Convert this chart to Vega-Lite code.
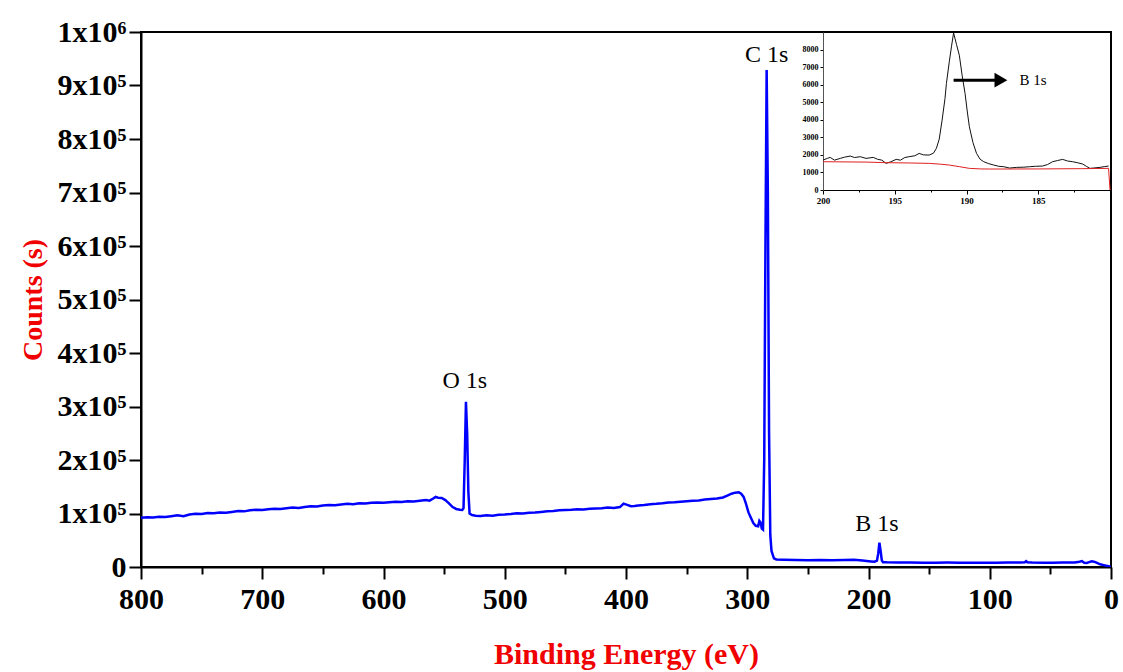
{
  "$schema": "https://vega.github.io/schema/vega-lite/v6.json",
  "width": 970,
  "height": 535,
  "autosize": "none",
  "padding": {"left": 141, "top": 32, "right": 12, "bottom": 105},
  "background": "white",
  "config": {
    "view": {"stroke": "black", "strokeWidth": 2},
    "axis": {"grid": false, "domainColor": "black", "tickColor": "black", "labelColor": "black", "labelFont": "Liberation Serif", "titleFont": "Liberation Serif"}
  },
  "datasets": {
    "survey": [
      {"E":800,"C":92000},{"E":795,"C":93000},{"E":790,"C":92500},{"E":785,"C":94000},{"E":780,"C":93500},{"E":775,"C":95000},{"E":770,"C":96500},{"E":765,"C":95000},{"E":760,"C":98000},{"E":755,"C":99500},{"E":750,"C":99000},{"E":745,"C":101000},{"E":740,"C":100500},{"E":735,"C":102000},{"E":730,"C":101500},{"E":725,"C":103000},{"E":720,"C":104500},{"E":715,"C":104000},{"E":710,"C":106000},{"E":705,"C":107000},{"E":700,"C":106500},{"E":695,"C":108000},{"E":690,"C":109000},{"E":685,"C":108500},{"E":680,"C":110000},{"E":675,"C":111000},{"E":670,"C":110500},{"E":665,"C":112000},{"E":660,"C":113500},{"E":655,"C":113000},{"E":650,"C":115000},{"E":645,"C":116000},{"E":640,"C":115500},{"E":635,"C":117000},{"E":630,"C":118000},{"E":625,"C":117500},{"E":620,"C":119000},{"E":615,"C":118500},{"E":610,"C":120000},{"E":605,"C":120500},{"E":600,"C":120000},{"E":595,"C":121000},{"E":590,"C":122000},{"E":585,"C":121500},{"E":580,"C":123000},{"E":575,"C":122500},{"E":570,"C":124000},{"E":565,"C":125000},{"E":562,"C":124000},{"E":559,"C":128000},{"E":557,"C":131000},{"E":555,"C":129500},{"E":552,"C":129000},{"E":549,"C":125000},{"E":546,"C":119000},{"E":543,"C":112000},{"E":540,"C":108500},{"E":537,"C":107000},{"E":535,"C":106500},{"E":534,"C":110000},{"E":533,"C":200000},{"E":532,"C":309000},{"E":531,"C":250000},{"E":530,"C":140000},{"E":529,"C":100000},{"E":527,"C":97000},{"E":524,"C":96000},{"E":520,"C":95500},{"E":515,"C":96500},{"E":510,"C":96000},{"E":505,"C":97500},{"E":500,"C":98000},{"E":495,"C":99000},{"E":490,"C":100500},{"E":485,"C":100000},{"E":480,"C":101500},{"E":475,"C":102000},{"E":470,"C":103000},{"E":465,"C":104000},{"E":460,"C":104500},{"E":455,"C":106000},{"E":450,"C":106500},{"E":445,"C":107000},{"E":440,"C":108000},{"E":435,"C":107500},{"E":430,"C":109000},{"E":425,"C":109500},{"E":420,"C":110000},{"E":415,"C":111000},{"E":410,"C":110500},{"E":405,"C":112000},{"E":402,"C":118500},{"E":399,"C":116000},{"E":396,"C":113500},{"E":393,"C":114000},{"E":390,"C":115000},{"E":385,"C":116000},{"E":380,"C":117500},{"E":375,"C":118000},{"E":370,"C":119000},{"E":365,"C":120500},{"E":360,"C":121000},{"E":355,"C":122000},{"E":350,"C":123000},{"E":345,"C":124000},{"E":340,"C":124500},{"E":335,"C":126000},{"E":330,"C":127000},{"E":325,"C":128000},{"E":320,"C":130000},{"E":316,"C":134000},{"E":313,"C":137000},{"E":310,"C":139000},{"E":307,"C":139500},{"E":305,"C":137000},{"E":303,"C":131000},{"E":301,"C":118000},{"E":299,"C":102000},{"E":297,"C":92000},{"E":295,"C":82000},{"E":293,"C":77000},{"E":291,"C":76000},{"E":290,"C":86000},{"E":289,"C":83000},{"E":288,"C":72000},{"E":287,"C":70000},{"E":286,"C":200000},{"E":285,"C":600000},{"E":284,"C":929000},{"E":283,"C":700000},{"E":282,"C":250000},{"E":281,"C":60000},{"E":280,"C":30000},{"E":278,"C":16000},{"E":276,"C":14000},{"E":270,"C":13500},{"E":260,"C":13000},{"E":250,"C":12500},{"E":240,"C":13000},{"E":230,"C":12500},{"E":220,"C":13000},{"E":212,"C":13500},{"E":205,"C":12000},{"E":198,"C":10500},{"E":195,"C":10000},{"E":193,"C":12000},{"E":192,"C":25000},{"E":191,"C":45500},{"E":190,"C":30000},{"E":189,"C":12000},{"E":188,"C":9000},{"E":185,"C":8700},{"E":175,"C":8500},{"E":165,"C":8200},{"E":155,"C":8000},{"E":145,"C":8000},{"E":135,"C":8200},{"E":125,"C":8000},{"E":115,"C":8100},{"E":105,"C":8000},{"E":95,"C":8000},{"E":85,"C":8200},{"E":75,"C":8500},{"E":71,"C":9000},{"E":70,"C":11000},{"E":69,"C":9000},{"E":65,"C":8300},{"E":55,"C":8100},{"E":48,"C":8000},{"E":40,"C":8300},{"E":30,"C":8500},{"E":26,"C":10000},{"E":24,"C":11000},{"E":22,"C":8000},{"E":20,"C":7500},{"E":18,"C":9000},{"E":16,"C":10600},{"E":14,"C":10000},{"E":12,"C":8000},{"E":9,"C":5000},{"E":6,"C":3500},{"E":3,"C":2000},{"E":0,"C":500}
    ],
    "peaks": [
      {"E":533,"C":334000,"label":"O 1s"},
      {"E":284,"C":944000,"label":"C 1s"},
      {"E":193,"C":67000,"label":"B 1s"}
    ],
    "inset": [
      {"s":"spectrum","E":200,"I":1706},{"s":"spectrum","E":199.7,"I":1800},{"s":"spectrum","E":199.5,"I":1858},{"s":"spectrum","E":199.2,"I":1700},{"s":"spectrum","E":198.8,"I":1800},{"s":"spectrum","E":198.5,"I":1870},{"s":"spectrum","E":198.1,"I":1934},{"s":"spectrum","E":197.8,"I":1850},{"s":"spectrum","E":197.4,"I":1896},{"s":"spectrum","E":197,"I":1800},{"s":"spectrum","E":196.5,"I":1858},{"s":"spectrum","E":196.2,"I":1750},{"s":"spectrum","E":195.9,"I":1700},{"s":"spectrum","E":195.6,"I":1517},{"s":"spectrum","E":195.3,"I":1600},{"s":"spectrum","E":194.9,"I":1744},{"s":"spectrum","E":194.6,"I":1700},{"s":"spectrum","E":194.3,"I":1850},{"s":"spectrum","E":194,"I":1896},{"s":"spectrum","E":193.6,"I":1950},{"s":"spectrum","E":193.3,"I":2085},{"s":"spectrum","E":193,"I":2000},{"s":"spectrum","E":192.6,"I":1990},{"s":"spectrum","E":192.3,"I":2100},{"s":"spectrum","E":192.1,"I":2370},{"s":"spectrum","E":191.9,"I":2900},{"s":"spectrum","E":191.7,"I":3981},{"s":"spectrum","E":191.5,"I":5200},{"s":"spectrum","E":191.4,"I":6066},{"s":"spectrum","E":191.2,"I":7300},{"s":"spectrum","E":191.05,"I":8152},{"s":"spectrum","E":190.9,"I":8948},{"s":"spectrum","E":190.7,"I":8300},{"s":"spectrum","E":190.5,"I":7678},{"s":"spectrum","E":190.3,"I":6500},{"s":"spectrum","E":190.1,"I":5498},{"s":"spectrum","E":189.95,"I":4500},{"s":"spectrum","E":189.8,"I":3602},{"s":"spectrum","E":189.55,"I":2700},{"s":"spectrum","E":189.3,"I":2085},{"s":"spectrum","E":189.05,"I":1750},{"s":"spectrum","E":188.8,"I":1611},{"s":"spectrum","E":188.45,"I":1500},{"s":"spectrum","E":188.1,"I":1422},{"s":"spectrum","E":187.75,"I":1350},{"s":"spectrum","E":187.4,"I":1327},{"s":"spectrum","E":187,"I":1250},{"s":"spectrum","E":186.5,"I":1289},{"s":"spectrum","E":186,"I":1300},{"s":"spectrum","E":185.6,"I":1327},{"s":"spectrum","E":185.2,"I":1350},{"s":"spectrum","E":184.7,"I":1365},{"s":"spectrum","E":184.35,"I":1450},{"s":"spectrum","E":184,"I":1611},{"s":"spectrum","E":183.65,"I":1680},{"s":"spectrum","E":183.3,"I":1744},{"s":"spectrum","E":182.95,"I":1650},{"s":"spectrum","E":182.6,"I":1611},{"s":"spectrum","E":182.25,"I":1550},{"s":"spectrum","E":181.9,"I":1479},{"s":"spectrum","E":181.65,"I":1350},{"s":"spectrum","E":181.4,"I":1232},{"s":"spectrum","E":181.05,"I":1260},{"s":"spectrum","E":180.7,"I":1289},{"s":"spectrum","E":180.4,"I":1330},{"s":"spectrum","E":180.1,"I":1365},
      {"s":"background","E":200,"I":1611},{"s":"background","E":197,"I":1590},{"s":"background","E":195.6,"I":1555},{"s":"background","E":194,"I":1540},{"s":"background","E":192.6,"I":1517},{"s":"background","E":191.8,"I":1470},{"s":"background","E":191.2,"I":1422},{"s":"background","E":190.5,"I":1330},{"s":"background","E":189.8,"I":1232},{"s":"background","E":189,"I":1200},{"s":"background","E":188.4,"I":1194},{"s":"background","E":185,"I":1200},{"s":"background","E":182,"I":1215},{"s":"background","E":180.1,"I":1232},{"s":"background","E":180,"I":0}
    ],
    "arrow": [{"E1":190.9,"E2":187.6,"I":6256,"label":"B 1s","Et":186.3}]
  },
  "layer": [
    {
      "layer": [
        {
          "data": {"name": "survey"},
          "mark": {"type": "line", "color": "#0000ff", "strokeWidth": 2.5, "clip": true},
          "encoding": {
            "x": {"field": "E", "type": "quantitative",
              "scale": {"domain": [0, 800], "reverse": true, "nice": false, "zero": false},
              "axis": {"orient": "bottom", "title": "Binding Energy (eV)",
                "values": [0,50,100,150,200,250,300,350,400,450,500,550,600,650,700,750,800],
                "labelExpr": "datum.value % 100 === 0 ? datum.label : ''",
                "labelFontSize": 30, "labelFontWeight": "bold", "labelPadding": 5, "labelFlush": false,
                "tickSize": {"condition": {"test": "datum.value % 100 === 0", "value": 12}, "value": 7},
                "tickWidth": 2, "domainWidth": 2,
                "titleFontSize": 30, "titleFontWeight": "bold", "titleColor": "#f00000", "titlePadding": 25}},
            "y": {"field": "C", "type": "quantitative",
              "scale": {"domain": [0, 1000000], "nice": false},
              "axis": {"orient": "left", "title": "Counts (s)",
                "values": [0,50000,100000,150000,200000,250000,300000,350000,400000,450000,500000,550000,600000,650000,700000,750000,800000,850000,900000,950000,1000000],
                "labelExpr": "datum.value === 0 ? '0' : (datum.value % 100000 !== 0 ? '' : (datum.value === 1000000 ? '1x10⁶' : format(datum.value/100000, 'd') + 'x10⁵'))",
                "labelFontSize": 30, "labelFontWeight": "bold", "labelPadding": 3, "labelFlush": false,
                "tickSize": {"condition": {"test": "datum.value % 100000 === 0", "value": 12}, "value": 7},
                "tickWidth": 2, "domainWidth": 2,
                "titleFontSize": 28, "titleFontWeight": "bold", "titleColor": "#f00000", "titlePadding": 10}}
          }
        },
        {
          "data": {"name": "peaks"},
          "mark": {"type": "text", "font": "Liberation Serif", "fontSize": 24, "align": "center", "baseline": "alphabetic", "color": "black"},
          "encoding": {
            "x": {"field": "E", "type": "quantitative"},
            "y": {"field": "C", "type": "quantitative"},
            "text": {"field": "label"}
          }
        }
      ]
    },
    {
      "layer": [
        {
          "data": {"name": "inset"},
          "mark": {"type": "line", "strokeWidth": 1},
          "encoding": {
            "x": {"field": "E", "type": "quantitative",
              "scale": {"domain": [200, 180], "range": [682, 969], "nice": false, "zero": false},
              "axis": {"orient": "bottom", "offset": -377, "title": null,
                "values": [200,197.5,195,192.5,190,187.5,185,182.5,180],
                "labelExpr": "datum.value % 5 === 0 && datum.value > 180 ? datum.label : ''",
                "labelFontSize": 9, "labelFontWeight": "bold", "labelPadding": 2, "labelFlush": false,
                "tickSize": {"condition": {"test": "datum.value % 5 === 0", "value": 4}, "value": 2},
                "tickWidth": 1, "domainWidth": 1}},
            "y": {"field": "I", "type": "quantitative",
              "scale": {"domain": [0, 9000], "range": [158, 0], "nice": false},
              "axis": {"orient": "left", "offset": -682, "title": null, "format": "d",
                "values": [0,500,1000,1500,2000,2500,3000,3500,4000,4500,5000,5500,6000,6500,7000,7500,8000,8500],
                "labelExpr": "datum.value % 1000 === 0 ? datum.label : ''",
                "labelFontSize": 8, "labelFontWeight": "bold", "labelPadding": 2, "labelFlush": false,
                "tickSize": {"condition": {"test": "datum.value % 1000 === 0", "value": 3}, "value": 2},
                "tickWidth": 1, "domainWidth": 1, "domainColor": "#555555"}},
            "color": {"field": "s", "type": "nominal", "legend": null,
              "scale": {"domain": ["spectrum", "background"], "range": ["#111111", "#e02020"]}}
          }
        },
        {
          "data": {"name": "arrow"},
          "mark": {"type": "rule", "strokeWidth": 3, "color": "black"},
          "encoding": {
            "x": {"field": "E1", "type": "quantitative"},
            "x2": {"field": "E2"},
            "y": {"field": "I", "type": "quantitative"}
          }
        },
        {
          "data": {"name": "arrow"},
          "mark": {"type": "point", "shape": "triangle-right", "filled": true, "size": 220, "color": "black", "opacity": 1},
          "encoding": {
            "x": {"field": "E2", "type": "quantitative"},
            "y": {"field": "I", "type": "quantitative"}
          }
        },
        {
          "data": {"name": "arrow"},
          "mark": {"type": "text", "font": "Liberation Serif", "fontSize": 15, "align": "left", "baseline": "middle", "color": "black"},
          "encoding": {
            "x": {"field": "Et", "type": "quantitative"},
            "y": {"field": "I", "type": "quantitative"},
            "text": {"field": "label"}
          }
        }
      ]
    }
  ],
  "resolve": {"scale": {"x": "independent", "y": "independent", "color": "independent"}, "axis": {"x": "independent", "y": "independent"}}
}
